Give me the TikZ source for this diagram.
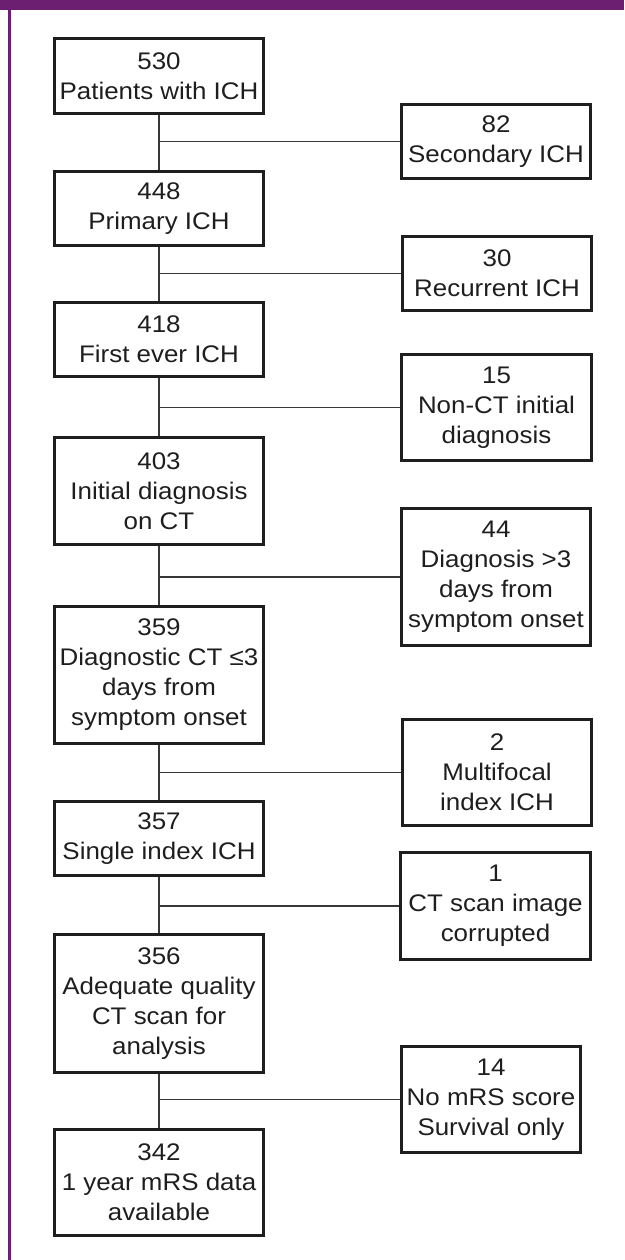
\documentclass[tikz,border=0pt]{standalone}
\usepackage{fontspec}
\setmainfont{Liberation Sans}[FakeStretch=1.08]
\usepackage{tikz}

\definecolor{framepurple}{RGB}{108,31,112}
\definecolor{boxline}{RGB}{30,30,30}
\definecolor{linkgray}{RGB}{55,55,55}
\definecolor{textgray}{RGB}{30,30,30}

\begin{document}
\begin{tikzpicture}[x=1pt, y=-1pt]
    \tikzstyle{box}=[draw=boxline, line width=2.6pt, text=textgray, align=center, inner sep=0pt,
                     font=\fontsize{24}{30}\selectfont]
    \tikzstyle{stage}=[box, minimum width=209.5pt];
    \tikzstyle{excluded}=[box, minimum width=189.5pt];
    \tikzstyle{two}=[minimum height=74.5pt];
    \tikzstyle{three}=[minimum height=106.5pt];
    \tikzstyle{four}=[minimum height=137.5pt];
    \tikzstyle{link}=[draw=linkgray, line width=1.6pt]

    \useasboundingbox (0,0) rectangle (624,1260);
    % purple frame of the figure
    \fill[framepurple] (0,0) rectangle (624,10);
    \fill[framepurple] (7.5,0) rectangle (10.5,1260);

    % Main flow on the left
    \node[stage, two] (n530) at (159,76) {530\\Patients with ICH};
    \node[stage, two] (n448) at (159,208.5) {448\\Primary ICH};
    \node[stage, two] (n418) at (159,339.5) {418\\First ever ICH};
    \node[stage, three] (n403) at (159,491) {403\\Initial diagnosis\\on CT};
    \node[stage, four] (n359) at (159,675) {359\\Diagnostic CT ≤3\\days from\\symptom onset};
    \node[stage, two] (n357) at (159,838.5) {357\\Single index ICH};
    \node[stage, four] (n356) at (159,1003.5) {356\\Adequate quality\\CT scan for\\analysis};
    \node[stage, three] (n342) at (159,1182.5) {342\\1 year mRS data\\available};

    % Exclusions on the right
    \node[excluded, two] (x82) at (496,141.5) {82\\Secondary ICH};
    \node[excluded, two] (x30) at (497,273.5) {30\\Recurrent ICH};
    \node[excluded, three] (x15) at (496.5,407.5) {15\\Non-CT initial\\diagnosis};
    \node[excluded, four] (x44) at (496,577) {44\\Diagnosis >3\\days from\\symptom onset};
    \node[excluded, three] (x2) at (497,772.5) {2\\Multifocal\\index ICH};
    \node[excluded, three] (x1) at (495.5,906) {1\\CT scan image\\corrupted};
    \node[excluded, three, minimum width=179.5pt] (x14) at (491,1099.5) {14\\No mRS score\\Survival only};

    % Connect the stages
    \draw[link] (n530.south) -- (n448.north);
    \draw[link] (n448.south) -- (n418.north);
    \draw[link] (n418.south) -- (n403.north);
    \draw[link] (n403.south) -- (n359.north);
    \draw[link] (n359.south) -- (n357.north);
    \draw[link] (n357.south) -- (n356.north);
    \draw[link] (n356.south) -- (n342.north);
    % Branches to the exclusions
    \draw[link] (x82.west) -- (x82.west -| n530.south);
    \draw[link] (x30.west) -- (x30.west -| n448.south);
    \draw[link] (x15.west) -- (x15.west -| n418.south);
    \draw[link] (x44.west) -- (x44.west -| n403.south);
    \draw[link] (x2.west) -- (x2.west -| n359.south);
    \draw[link] (x1.west) -- (x1.west -| n357.south);
    \draw[link] (x14.west) -- (x14.west -| n356.south);
\end{tikzpicture}
\end{document}
